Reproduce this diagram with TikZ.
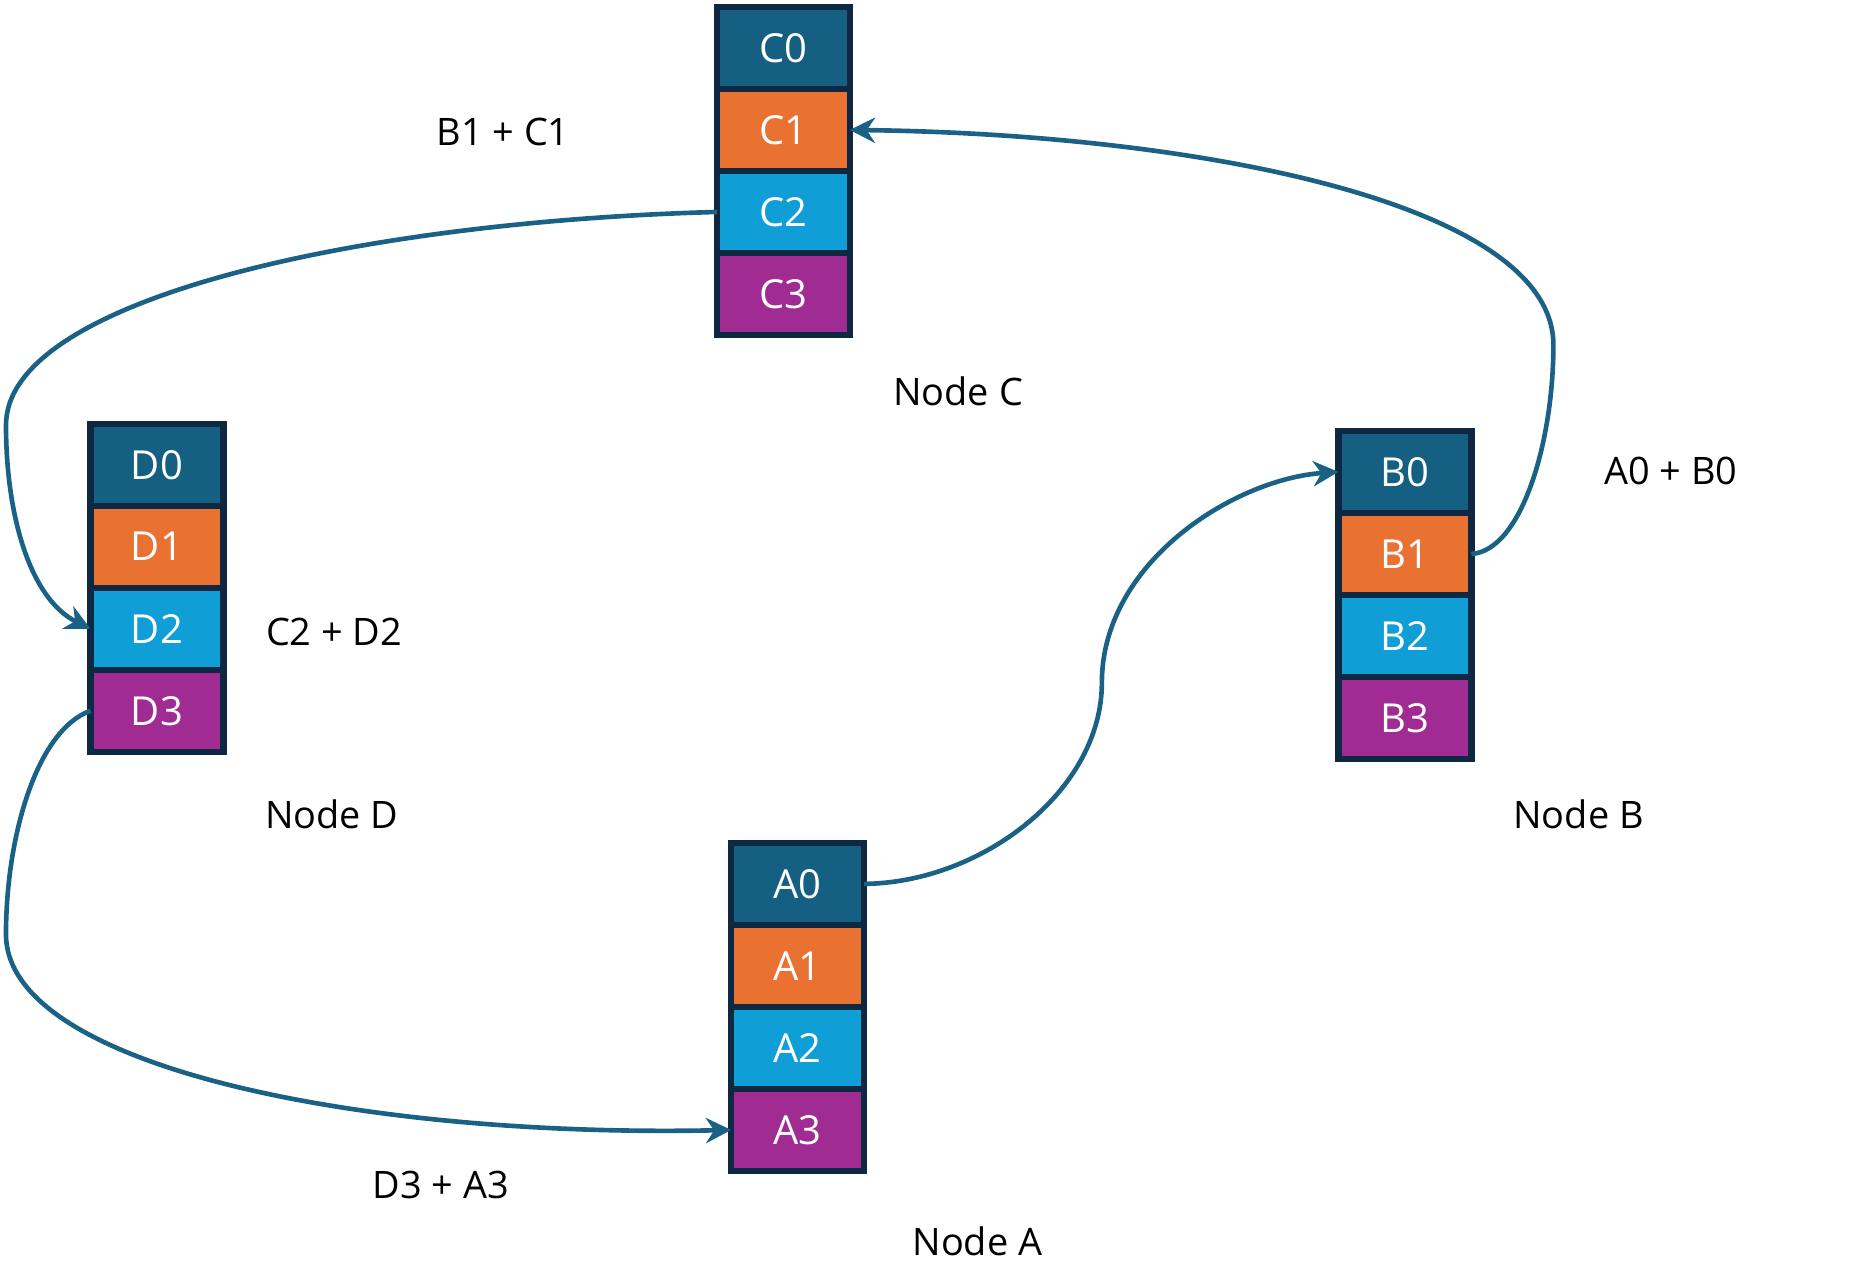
\documentclass[tikz,border=0pt]{standalone}
\usepackage{fontspec}
\setmainfont{Open Sans}
\usetikzlibrary{positioning,arrows.meta}
\definecolor{cdark}{HTML}{156082}
\definecolor{corange}{HTML}{E97132}
\definecolor{ccyan}{HTML}{0F9ED5}
\definecolor{cpurple}{HTML}{A02B93}
\definecolor{cedge}{HTML}{0E2841}
\definecolor{cline}{HTML}{1A6285}
\tikzset{
  cell/.style={rectangle, draw=cedge, line width=3pt, minimum width=2.22cm, minimum height=1.37cm,
    outer sep=0pt, inner sep=0pt, text=white, font=\fontsize{19}{22}\selectfont},
  lbl/.style={font=\fontsize{18}{22}\selectfont},
  link/.style={draw=cline, line width=2.2pt, -{Stealth[length=12pt,width=12pt]}},
}
\begin{document}
\begin{tikzpicture}[x=0.02cm, y=-0.02cm]
\useasboundingbox (0,0) rectangle (1553,1075);
% the four stacks
\foreach \n/\x/\y in {C/654/40, D/131/388, B/1173/394, A/666/738}{
  \node[cell, fill=cdark] (\n0) at (\x,\y) {\n0};
  \node[cell, fill=corange, below=0pt of \n0] (\n1) {\n1};
  \node[cell, fill=ccyan, below=0pt of \n1] (\n2) {\n2};
  \node[cell, fill=cpurple, below=0pt of \n2] (\n3) {\n3};
}
% labels
\node[lbl] (lc) at (800,327) {Node C};
\node[lbl] (lb) at (1318,680) {Node B};
\node[lbl] (ld) at (277,680) {Node D};
\node[lbl] (la) at (816,1036) {Node A};
\node[lbl] (sbc) at (420,110) {B1 + C1};
\node[lbl] (sab) at (1395,393) {A0 + B0};
\node[lbl] (scd) at (279,528) {C2 + D2};
\node[lbl] (sda) at (368,989) {D3 + A3};
% links
\draw[link] (C2.west) .. controls (300,185) and (5,250) .. (5,355)
  .. controls (5,430) and (25,500) .. (D2.west);
\draw[link] (D3.west) .. controls (30,610) and (5,700) .. (5,780)
  .. controls (5,890) and (300,950) .. (A3.west);
\draw[link] (A0.east) .. controls (820,737) and (920,660) .. (920,570)
  .. controls (920,470) and (1030,400) .. (B0.west);
\draw[link] (B1.east) .. controls (1270,460) and (1297,370) .. (1297,288)
  .. controls (1297,170) and (1000,112) .. (C1.east);
\end{tikzpicture}
\end{document}
